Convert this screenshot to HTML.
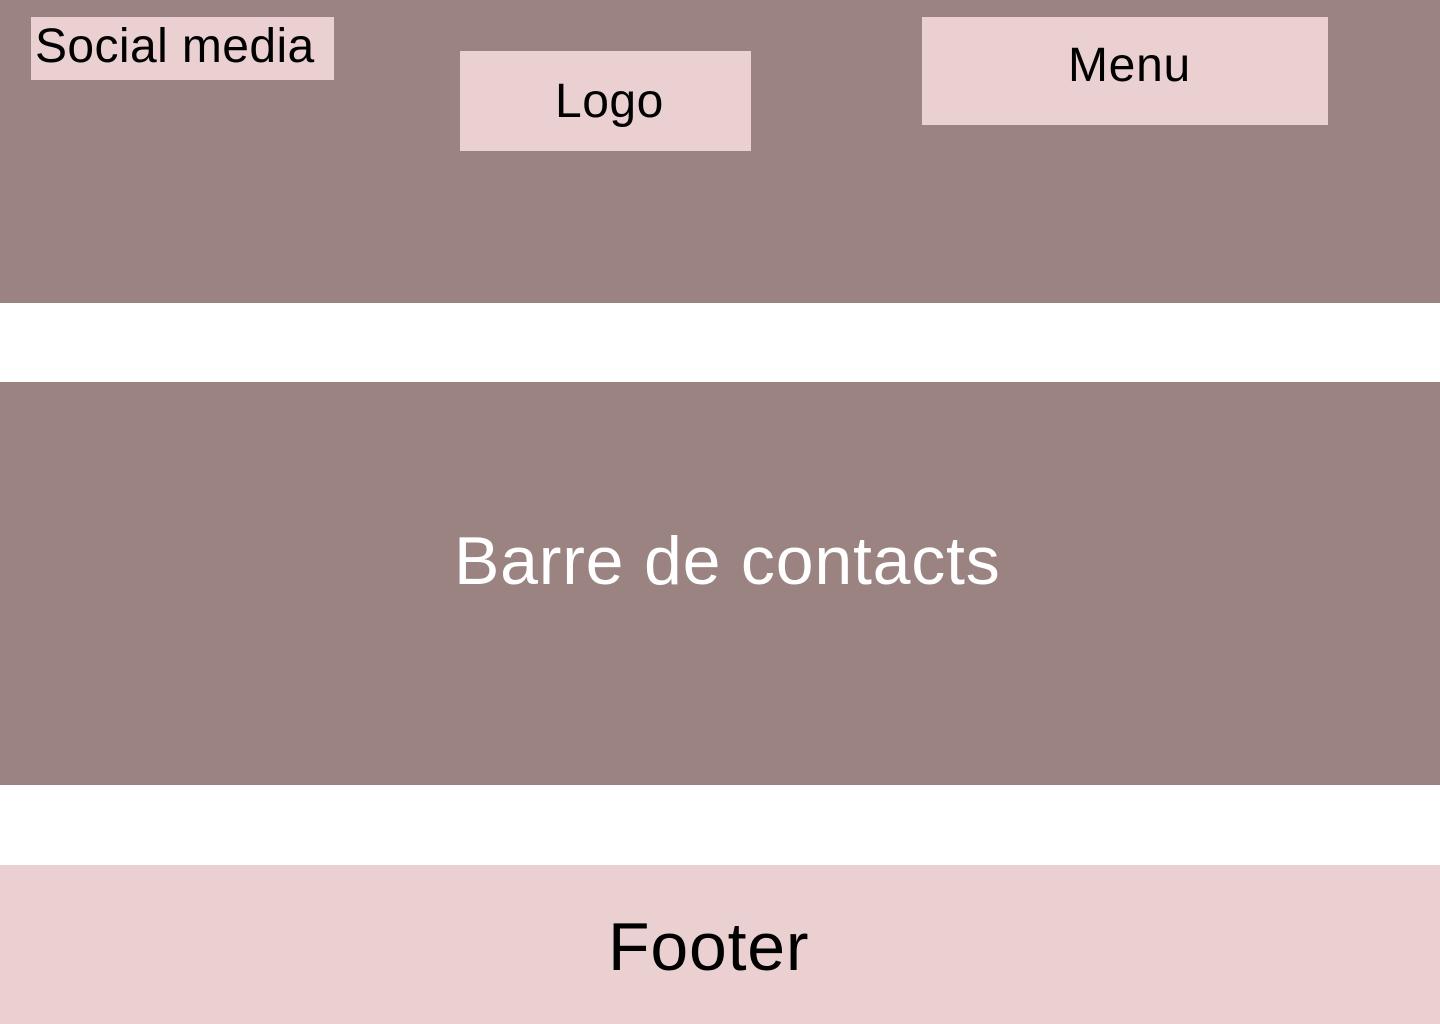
<!DOCTYPE html>
<html><head><meta charset="utf-8"><style>
html,body{margin:0;padding:0;width:1440px;height:1024px;background:#fff;overflow:hidden;font-family:"Liberation Sans",sans-serif;}
.a{position:absolute;}
.dark{background:#9b8382;}
.pink{background:#ebd0d1;}
.t{position:absolute;white-space:nowrap;color:#000;}
</style></head><body>
<div class="a dark" style="left:0;top:0;width:1440px;height:303px"></div>
<div class="a pink" style="left:31px;top:17px;width:303px;height:63px"></div>
<div class="t" style="left:35px;top:19px;font-size:48px;line-height:56px;letter-spacing:0.4px">Social media</div>
<div class="a pink" style="left:460px;top:51px;width:291px;height:100px"></div>
<div class="t" style="left:555px;top:74px;font-size:48px;line-height:56px;letter-spacing:0.5px">Logo</div>
<div class="a pink" style="left:922px;top:17px;width:406px;height:108px"></div>
<div class="t" style="left:1068px;top:38px;font-size:48px;line-height:56px;letter-spacing:0.7px">Menu</div>
<div class="a dark" style="left:0;top:382px;width:1440px;height:403px"></div>
<div class="t" style="left:454px;top:523px;font-size:68px;line-height:76px;color:#fff;letter-spacing:0.8px">Barre de contacts</div>
<div class="a pink" style="left:0;top:865px;width:1440px;height:159px"></div>
<div class="t" style="left:608px;top:909px;font-size:68px;line-height:76px;letter-spacing:0.8px">Footer</div>
</body></html>
